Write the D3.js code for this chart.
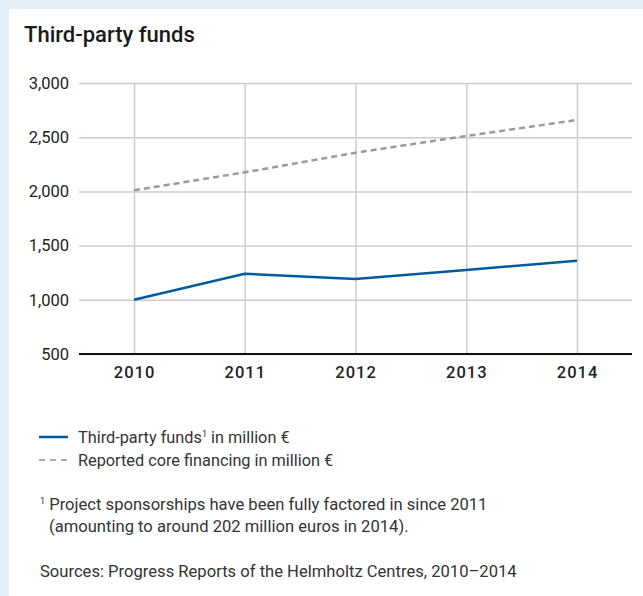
<!DOCTYPE html>
<html>
<head>
<meta charset="utf-8">
<script src="https://cdn.jsdelivr.net/npm/d3@7"></script>
<style>
  body { margin: 0; background: #e2eef8; }
  svg { display: block; font-family: Roboto, sans-serif; }
</style>
</head>
<body>
<svg></svg>
<script>
const width = 643;
const height = 596;

const years = [2010, 2011, 2012, 2013, 2014];
const thirdParty = [1000, 1241, 1191, 1275, 1360];
const coreFinancing = [2010, 2176, 2356, 2511, 2659];
const yTicks = [500, 1000, 1500, 2000, 2500, 3000];

const plotLeft = 79, plotRight = 632, plotTop = 83, plotBottom = 354;

let svg = d3.select("svg")
    .attr("width", width)
    .attr("height", height);

// white panel
svg.append("rect")
    .attr("x", 9).attr("y", 9)
    .attr("width", width - 9).attr("height", height - 9)
    .attr("fill", "#fff");

svg.append("text")
    .attr("x", 24).attr("y", 42)
    .attr("fill", "#1a1a1a")
    .style("font-size", "22px")
    .style("font-weight", 500)
    .text("Third-party funds");

let xScale = d3.scaleLinear()
    .domain([2010, 2014])
    .range([134, 577]);
let yScale = d3.scaleLinear()
    .domain([500, 3000])
    .range([plotBottom, plotTop]);

// horizontal grid + labels
let yAxis = d3.axisLeft(yScale)
    .tickValues(yTicks)
    .tickSize(-(plotRight - plotLeft))
    .tickSizeOuter(0)
    .tickPadding(10)
    .tickFormat(d3.format(","));
let gy = svg.append("g")
    .attr("transform", `translate(${plotLeft}, 0)`)
    .call(yAxis);
gy.select(".domain").remove();
gy.selectAll(".tick line").attr("stroke", "#cccccc").attr("stroke-width", 1.5);
gy.selectAll(".tick text")
    .attr("fill", "#222")
    .style("font-size", "16.5px")
    .style("font-family", "Roboto, sans-serif");

// vertical grid + labels
let xAxis = d3.axisBottom(xScale)
    .tickValues(years)
    .tickSize(-(plotBottom - plotTop))
    .tickSizeOuter(0)
    .tickPadding(12)
    .tickFormat(d3.format("d"));
let gx = svg.append("g")
    .attr("transform", `translate(0, ${plotBottom})`)
    .call(xAxis);
gx.select(".domain").remove();
gx.selectAll(".tick line").attr("stroke", "#cccccc").attr("stroke-width", 1.5);
gx.selectAll(".tick text")
    .attr("fill", "#222")
    .style("font-size", "16.5px")
    .style("font-weight", 500)
    .style("letter-spacing", "1px")
    .style("font-family", "Roboto, sans-serif");

// base line
svg.append("line")
    .attr("x1", plotLeft).attr("x2", plotRight)
    .attr("y1", plotBottom).attr("y2", plotBottom)
    .attr("stroke", "#111").attr("stroke-width", 2);

let line = d3.line()
    .x((d, i) => xScale(years[i]))
    .y(d => yScale(d));

svg.append("path")
    .datum(coreFinancing)
    .attr("d", line)
    .attr("fill", "none")
    .attr("stroke", "#9a9a9a")
    .attr("stroke-width", 2.5)
    .attr("stroke-dasharray", "6,4");

svg.append("path")
    .datum(thirdParty)
    .attr("d", line)
    .attr("fill", "none")
    .attr("stroke", "#005a9c")
    .attr("stroke-width", 2.5);

// legend
let legend = svg.append("g").style("font-size", "16.3px").attr("fill", "#333");
legend.append("line")
    .attr("x1", 39).attr("x2", 68).attr("y1", 437).attr("y2", 437)
    .attr("stroke", "#005a9c").attr("stroke-width", 2.5);
let t1 = legend.append("text").attr("x", 78).attr("y", 443);
t1.append("tspan").text("Third-party funds");
t1.append("tspan").attr("dy", -6).style("font-size", "9px").text("1");
t1.append("tspan").attr("dy", 6).text(" in million €");

legend.append("line")
    .attr("x1", 39).attr("x2", 68).attr("y1", 460).attr("y2", 460)
    .attr("stroke", "#aaa").attr("stroke-width", 2)
    .attr("stroke-dasharray", "6,5");
legend.append("text").attr("x", 78).attr("y", 466)
    .text("Reported core financing in million €");

// footnote
let note = svg.append("g").style("font-size", "16.6px").attr("fill", "#333");
let n1 = note.append("text").attr("x", 40).attr("y", 510);
n1.append("tspan").attr("dy", -6).style("font-size", "9px").text("1");
n1.append("tspan").attr("dy", 6).text(" Project sponsorships have been fully factored in since 2011");
note.append("text").attr("x", 49).attr("y", 532)
    .text("(amounting to around 202 million euros in 2014).");
note.append("text").attr("x", 40).attr("y", 577)
    .text("Sources: Progress Reports of the Helmholtz Centres, 2010–2014");
</script>
</body>
</html>
